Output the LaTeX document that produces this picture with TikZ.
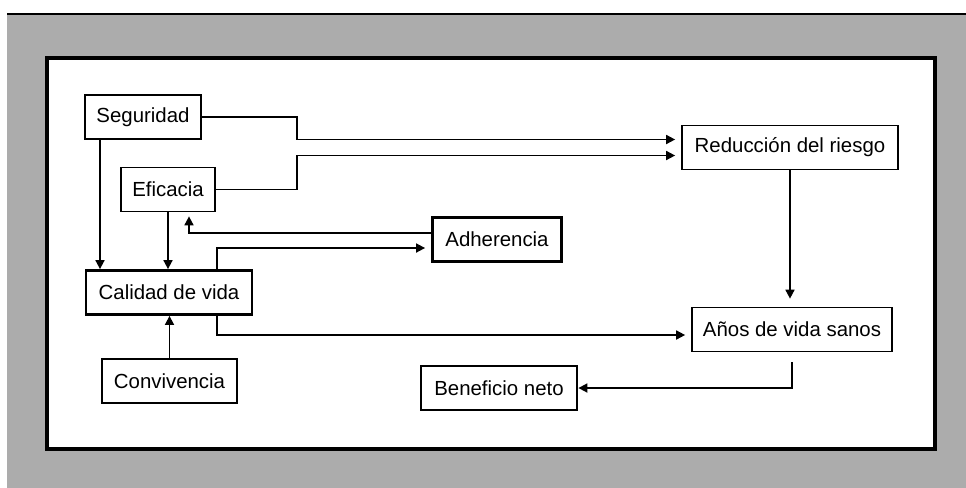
\documentclass[tikz,border=0pt]{standalone}
\usepackage{fontspec}
\setmainfont{Liberation Sans}
\usetikzlibrary{arrows.meta}
\definecolor{screen}{RGB}{172,172,172}

\begin{document}
\begin{tikzpicture}[x=0.5pt, y=-0.5pt,
  box/.style={draw, line width=0.85pt, fill=white, inner sep=0pt, font=\fontsize{10.2}{12}\selectfont},
  boxb/.style={box, line width=1.4pt},
  arr/.style={line width=0.85pt, -{Triangle[length=4.5pt,width=4.5pt]}},
  gap/.style={shorten >=3pt}]
\useasboundingbox (0,0) rectangle (966,488);
\fill[screen] (7,14) rectangle (966,488);
\draw[line width=0.8pt] (7,14) -- (966,14);
\draw[line width=1.6pt, fill=white] (47,58) rectangle (935,449);
% boxes
\foreach \n/\x/\y/\w/\s/\t in {seg/143/117/116/box/{Seguridad}, efi/168/189.5/94/box/{Eficacia},
    red/790/147.5/216/box/{Reducción del riesgo}, adh/497/239.5/129/boxb/{Adherencia},
    cal/169/292.5/166/boxb/{Calidad de vida}, con/169.5/381/135/box/{Convivencia},
    anos/792/329.5/200/box/{Años de vida sanos}, ben/499/388/156/boxb/{Beneficio neto}}
  { \node[\s, minimum width=\w*0.5pt, minimum height=22pt] (\n) at (\x,\y) {\t}; }
% links
\draw[arr, gap] (seg.east) -- ++(95,0) |- ([yshift=4pt]red.west);
\draw[arr, gap] (efi.east) -- ++(81,0) |- ([yshift=-4pt]red.west);
\draw[arr] (seg.south -| 100,0) -- (cal.north -| 100,0);
\draw[arr] (efi.south) -- (efi.south |- cal.north);
\draw[arr, shorten >=2pt] ([yshift=3.25pt]adh.west) -| (efi.south -| 189,0);
\draw[arr, gap] (cal.north -| 217,0) |- ([yshift=-4.25pt]adh.west);
\draw[arr, gap] (cal.south -| 217,0) |- ([yshift=-2.75pt]anos.west);
\draw[arr] (con.north) -- (con.north |- cal.south);
\draw[arr, shorten >=4pt] (red.south) -- (red.south |- anos.north);
\draw[arr, shorten <=5pt] (anos.south) |- (ben.east);
\end{tikzpicture}
\end{document}
